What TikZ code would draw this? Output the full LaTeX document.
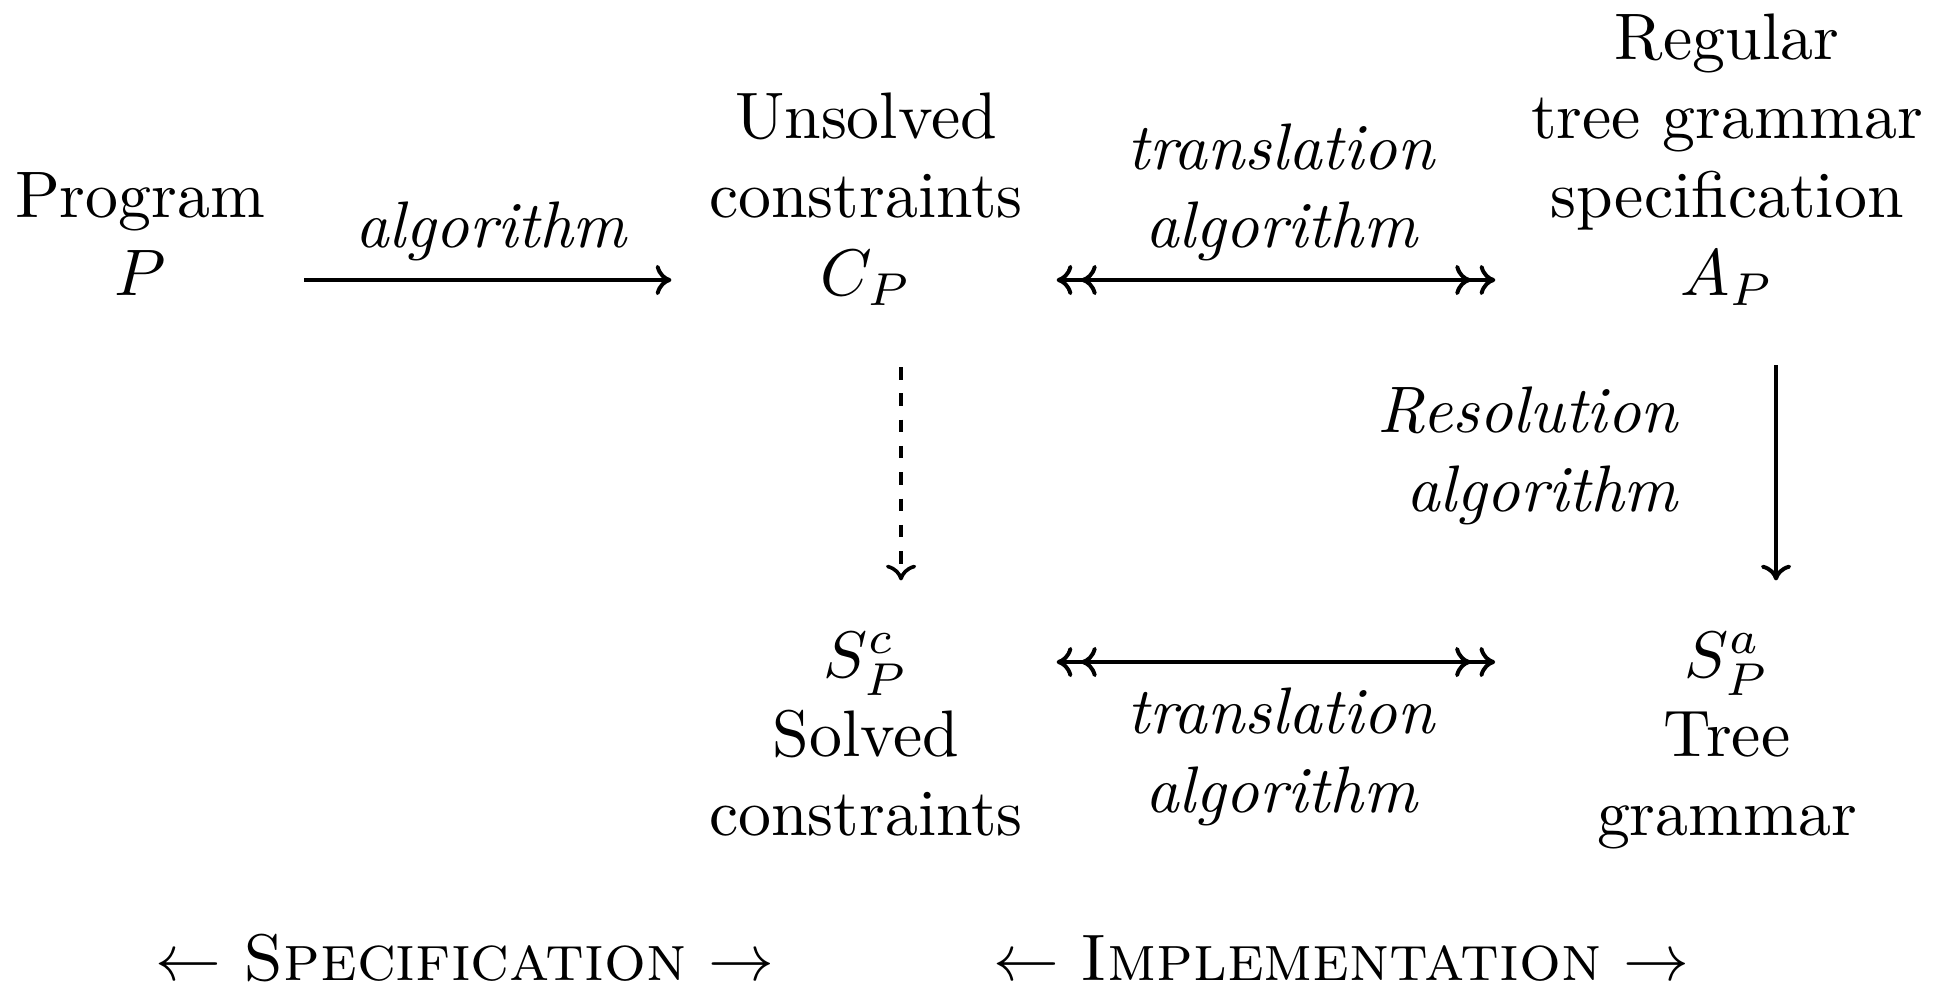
\documentclass[tikz,border=0pt]{standalone}
\usetikzlibrary{arrows.meta,calc}
\begin{document}
\begin{tikzpicture}[x=0.152pt,y=-0.152pt,
  txt/.style={inner sep=0pt,anchor=base},
  lbl/.style={inner sep=0pt,anchor=base,font=\itshape},
  conn/.style={line width=0.6pt},
  dconn/.style={line width=0.55pt,dash pattern=on 1.9pt off 2.1pt},
  >={Computer Modern Rightarrow[length=2.4pt,width=4.6pt,sep=1.3pt]}]
\useasboundingbox (0,0) rectangle (1946,990);
% main nodes
\node[txt] (prog) at (140,296) {\begin{tabular}[b]{@{}c@{}}Program\\$P$\end{tabular}};
\node[txt] (unsolved) at (866,296) {\begin{tabular}[b]{@{}c@{}}Unsolved\\constraints\\$C_P$\end{tabular}};
\node[txt] (regular) at (1727,296) {\begin{tabular}[b]{@{}c@{}}Regular\\tree grammar\\specification\\$A_P$\end{tabular}};
\node[txt] (spc) at (866,835) {\begin{tabular}[b]{@{}c@{}}$S_P^c$\\Solved\\constraints\end{tabular}};
\node[txt] (spa) at (1727,835) {\begin{tabular}[b]{@{}c@{}}$S_P^a$\\Tree\\grammar\end{tabular}};
% labels
\node[lbl] (l1) at (491,248) {algorithm};
\node[lbl] (l2) at (1281,248) {\begin{tabular}[b]{@{}c@{}}translation\\algorithm\end{tabular}};
\node[lbl] (l3) at (1281,812) {\begin{tabular}[b]{@{}c@{}}translation\\algorithm\end{tabular}};
\node[lbl,anchor=base east] (l4) at (1679,511) {\begin{tabular}[b]{@{}r@{}}Resolution\\algorithm\end{tabular}};
% bottom captions
\node[txt] (spec) at (465,980) {$\leftarrow$ \textsc{Specification} $\rightarrow$};
\node[txt] (impl) at (1341,980) {$\leftarrow$ \textsc{Implementation} $\rightarrow$};
% connectors
\draw[conn,->] ($(prog.base east)+(38,-16)$) -- ($(unsolved.base west)+(-28,-16)$);
\draw[conn,<<->>] ($(unsolved.base east)+(24,-16)$) -- ($(regular.base west)+(-26,-16)$);
\draw[conn,<<->>] ($(spc.base east)+(24,-173)$) -- ($(spa.base west)+(-92,-173)$);
\draw[dconn,->] ($(unsolved.base)+(35,71)$) -- ($(spc.base)+(35,-246)$);
\draw[conn,->] ($(regular.base)+(49,69)$) -- ($(spa.base)+(49,-246)$);
\end{tikzpicture}
\end{document}
